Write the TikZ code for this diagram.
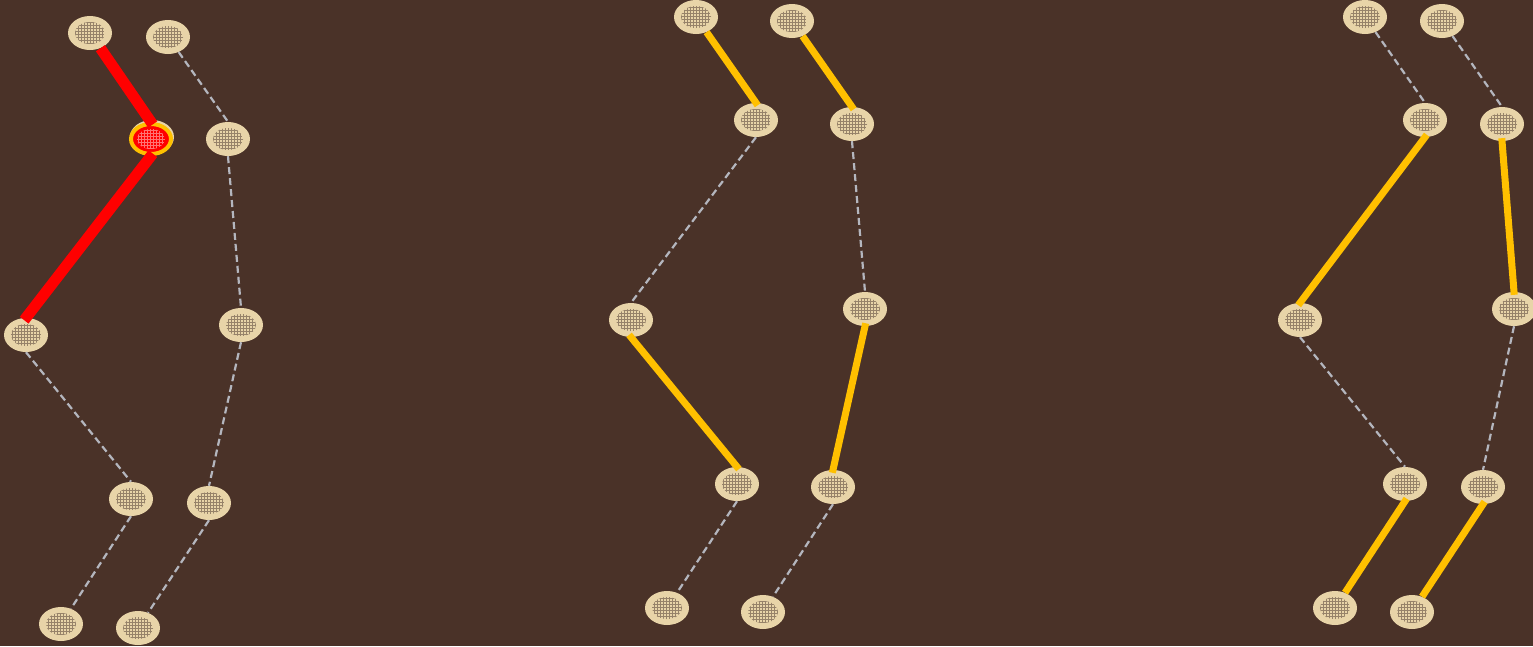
\documentclass[tikz,border=0pt]{standalone}
\usetikzlibrary{shapes.geometric,patterns}
\definecolor{bg}{RGB}{74,50,40}
\definecolor{beige}{RGB}{232,212,168}
\definecolor{hatch}{RGB}{150,130,105}
\definecolor{gold}{RGB}{255,192,0}
\definecolor{dashgray}{RGB}{180,182,190}
\begin{document}
\begin{tikzpicture}[x=1pt,y=-1pt,
  nd/.style={ellipse,minimum width=44pt,minimum height=34pt,inner sep=0pt,fill=beige,
    path picture={\fill[pattern=grid,pattern color=hatch] (path picture bounding box.center) ellipse (15pt and 11pt);}},
  hot/.style={ellipse,minimum width=40pt,minimum height=30pt,inner sep=0pt,fill=red,draw=gold,line width=4pt,
    path picture={\fill[pattern=grid,pattern color=red!55!white] (path picture bounding box.center) ellipse (14pt and 10pt);}},
  dline/.style={draw=dashgray,line width=2.2pt,dash pattern=on 7pt off 4pt},
  oline/.style={draw=gold,line width=7pt},
  rline/.style={draw=red,line width=11pt},
  inS/.style={shorten <=-3pt},
  inE/.style={shorten >=-3pt}]
\fill[bg] (0,0) rectangle (1533,646);
\useasboundingbox (0,0) rectangle (1533,646);
% group 1
\node[nd] (A1) at (90,33) {};
\node[nd] (B1) at (168,37) {};
\node[nd] (A2) at (152,137) {};
\node[hot] (A2h) at (151,139) {};
\node[nd] (B2) at (228,139) {};
\node[nd] (A3) at (26,335) {};
\node[nd] (B3) at (241,325) {};
\node[nd] (A4) at (131,499) {};
\node[nd] (B4) at (209,503) {};
\node[nd] (A5) at (61,624) {};
\node[nd] (B5) at (138,628) {};
% group 2
\node[nd] (C1) at (696,17) {};
\node[nd] (D1) at (792,21) {};
\node[nd] (C2) at (756,120) {};
\node[nd] (D2) at (852,124) {};
\node[nd] (C3) at (631,320) {};
\node[nd] (D3) at (865,309) {};
\node[nd] (C4) at (737,484) {};
\node[nd] (D4) at (833,487) {};
\node[nd] (C5) at (667,608) {};
\node[nd] (D5) at (763,612) {};
% group 3
\node[nd] (E1) at (1365,17) {};
\node[nd] (F1) at (1442,21) {};
\node[nd] (E2) at (1425,120) {};
\node[nd] (F2) at (1502,124) {};
\node[nd] (E3) at (1300,320) {};
\node[nd] (F3) at (1514,309) {};
\node[nd] (E4) at (1405,484) {};
\node[nd] (F4) at (1483,487) {};
\node[nd] (E5) at (1335,608) {};
\node[nd] (F5) at (1412,612) {};
% edges group 1
\draw[rline,inE] (A1) -- (A2h.north);
\draw[rline,inS,inE] (A2h.south) -- (A3.north);
\draw[dline] (A3.south) -- (A4.north);
\draw[dline] (A4.south) -- (A5);
\draw[dline] (B1) -- (B2.north);
\draw[dline] (B2.south) -- (B3.north);
\draw[dline] (B3.south) -- (B4.north);
\draw[dline] (B4.south) -- (B5);
% edges group 2
\draw[oline,inE] (C1) -- (C2.north);
\draw[oline,inE] (D1) -- (D2.north);
\draw[dline] (C2.south) -- (C3.north);
\draw[dline] (D2.south) -- (D3.north);
\draw[oline,inS,inE] (C3.south) -- (C4.north);
\draw[oline,inS,inE] (D3.south) -- (D4.north);
\draw[dline] (C4.south) -- (C5);
\draw[dline] (D4.south) -- (D5);
% edges group 3
\draw[dline] (E1) -- (E2.north);
\draw[dline] (F1) -- (F2.north);
\draw[oline,inS,inE] (E2.south) -- (E3.north);
\draw[oline,inS,inE] (F2.south) -- (F3.north);
\draw[dline] (E3.south) -- (E4.north);
\draw[dline] (F3.south) -- (F4.north);
\draw[oline,inS] (E4.south) -- (E5);
\draw[oline,inS] (F4.south) -- (F5);
\end{tikzpicture}
\end{document}
